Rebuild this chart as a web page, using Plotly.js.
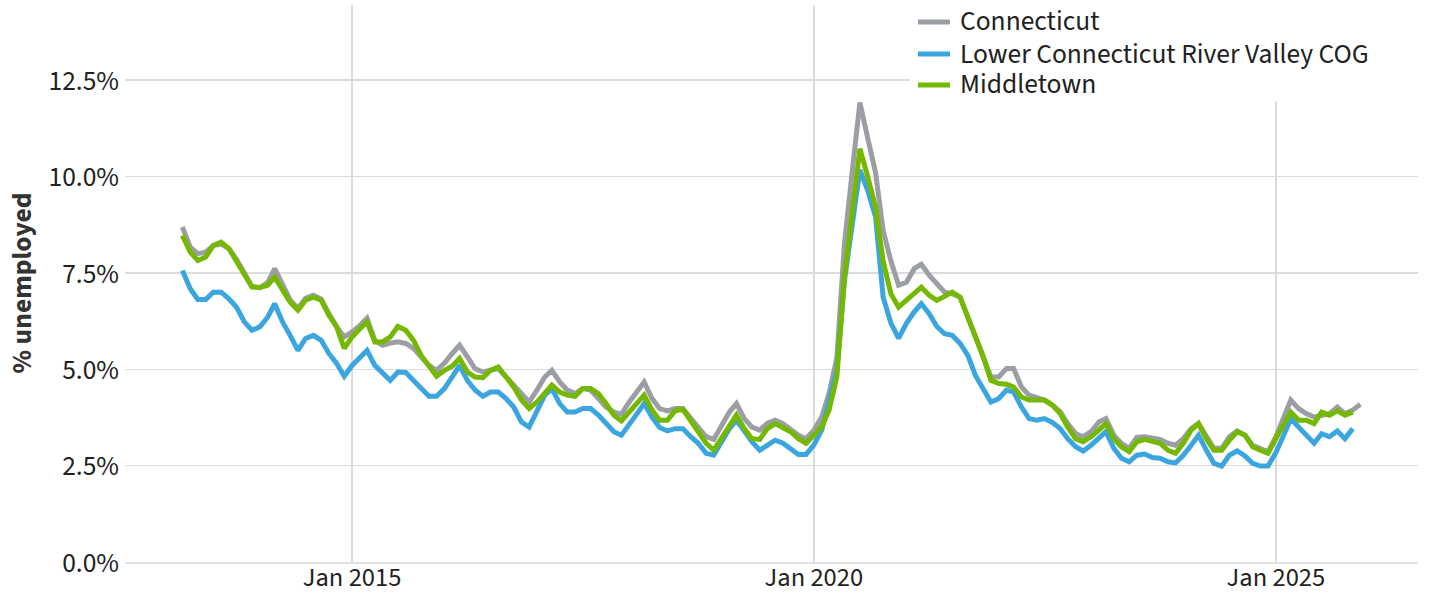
<!DOCTYPE html>
<html>
<head>
<meta charset="utf-8">
<script src="https://cdn.plot.ly/plotly-3.0.1.min.js"></script>
<style>
  html, body { margin: 0; padding: 0; background: #fff; }
  #chart { width: 1429px; height: 597px; }
</style>
</head>
<body>
<div id="chart"></div>
<script>
// Monthly series, first month March 2013
const startYear = 2013;
const startMonth = 3; // March

const connecticut = [
  8.69, 8.17, 8.00, 8.04, 8.21, 8.25, 8.13, 7.85, 7.50, 7.15, 7.12, 7.25,
  7.61, 7.20, 6.80, 6.58, 6.84, 6.92, 6.82, 6.45, 6.10, 5.84, 5.97, 6.14,
  6.32, 5.75, 5.62, 5.68, 5.71, 5.67, 5.54, 5.32, 5.10, 4.97, 5.16, 5.41,
  5.62, 5.32, 5.02, 4.93, 4.97, 5.02, 4.80, 4.59, 4.37, 4.15, 4.46, 4.80,
  4.97, 4.67, 4.46, 4.37, 4.50, 4.46, 4.24, 4.02, 3.89, 3.83, 4.15, 4.41,
  4.67, 4.24, 3.98, 3.92, 3.98, 3.98, 3.72, 3.50, 3.25, 3.18, 3.55, 3.89,
  4.11, 3.72, 3.50, 3.42, 3.60, 3.68, 3.59, 3.46, 3.29, 3.20, 3.42, 3.76,
  4.37, 5.30, 8.26, 10.15, 11.92, 11.00, 10.10, 8.60, 7.80, 7.18, 7.26, 7.61,
  7.72, 7.44, 7.22, 7.00, 6.96, 6.87, 6.35, 5.84, 5.32, 4.80, 4.80, 5.02,
  5.02, 4.54, 4.33, 4.28, 4.20, 4.07, 3.90, 3.59, 3.33, 3.25, 3.38, 3.63,
  3.72, 3.29, 3.08, 2.95, 3.23, 3.25, 3.23, 3.18, 3.08, 3.03, 3.20, 3.46,
  3.59, 3.29, 2.95, 2.95, 3.25, 3.40, 3.29, 3.03, 2.95, 2.86, 3.25, 3.72,
  4.20, 3.98, 3.85, 3.76, 3.81, 3.85, 4.02, 3.85, 3.94, 4.09
];

const lowerCtRiverValley = [
  7.56, 7.09, 6.81, 6.81, 7.00, 7.00, 6.83, 6.61, 6.23, 6.01, 6.10, 6.35,
  6.70, 6.23, 5.88, 5.49, 5.80, 5.88, 5.75, 5.41, 5.15, 4.82, 5.10, 5.32,
  5.49, 5.10, 4.89, 4.71, 4.93, 4.92, 4.71, 4.50, 4.30, 4.30, 4.50, 4.80,
  5.10, 4.71, 4.46, 4.30, 4.41, 4.41, 4.24, 4.02, 3.63, 3.50, 3.94, 4.33,
  4.50, 4.11, 3.89, 3.89, 3.98, 3.98, 3.81, 3.59, 3.38, 3.29, 3.55, 3.85,
  4.11, 3.76, 3.49, 3.40, 3.46, 3.46, 3.25, 3.08, 2.82, 2.77, 3.12, 3.46,
  3.68, 3.38, 3.12, 2.90, 3.02, 3.16, 3.08, 2.95, 2.79, 2.79, 3.03, 3.42,
  4.20, 4.97, 7.30, 8.70, 10.17, 9.64, 8.95, 6.87, 6.19, 5.80, 6.19, 6.49,
  6.70, 6.44, 6.11, 5.92, 5.88, 5.67, 5.36, 4.84, 4.46, 4.15, 4.24, 4.46,
  4.41, 4.02, 3.72, 3.68, 3.72, 3.62, 3.46, 3.20, 2.99, 2.88, 3.03, 3.20,
  3.38, 2.95, 2.69, 2.60, 2.77, 2.80, 2.71, 2.69, 2.60, 2.57, 2.77, 3.03,
  3.29, 2.90, 2.56, 2.49, 2.77, 2.88, 2.75, 2.56, 2.49, 2.49, 2.84, 3.29,
  3.72, 3.50, 3.29, 3.08, 3.33, 3.25, 3.40, 3.20, 3.46
];

const middletown = [
  8.47, 8.04, 7.82, 7.91, 8.21, 8.30, 8.13, 7.82, 7.48, 7.13, 7.12, 7.18,
  7.39, 7.05, 6.74, 6.53, 6.79, 6.87, 6.79, 6.40, 6.10, 5.54, 5.84, 6.05,
  6.23, 5.71, 5.71, 5.84, 6.11, 6.01, 5.75, 5.36, 5.06, 4.82, 4.97, 5.08,
  5.28, 4.93, 4.80, 4.78, 4.97, 5.06, 4.80, 4.54, 4.20, 3.98, 4.15, 4.37,
  4.59, 4.41, 4.33, 4.30, 4.50, 4.50, 4.37, 4.11, 3.81, 3.66, 3.89, 4.11,
  4.33, 3.94, 3.68, 3.68, 3.92, 3.96, 3.68, 3.38, 3.08, 2.90, 3.20, 3.52,
  3.81, 3.46, 3.20, 3.18, 3.46, 3.59, 3.50, 3.38, 3.20, 3.08, 3.29, 3.50,
  3.94, 4.80, 7.40, 9.00, 10.72, 10.00, 9.20, 7.80, 6.95, 6.61, 6.79, 6.96,
  7.13, 6.92, 6.79, 6.89, 7.00, 6.87, 6.35, 5.84, 5.32, 4.71, 4.63, 4.61,
  4.54, 4.28, 4.20, 4.20, 4.20, 4.07, 3.85, 3.50, 3.20, 3.12, 3.25, 3.42,
  3.59, 3.20, 2.99, 2.86, 3.12, 3.18, 3.12, 3.08, 2.90, 2.82, 3.08, 3.42,
  3.59, 3.20, 2.90, 2.90, 3.16, 3.38, 3.29, 2.99, 2.90, 2.82, 3.20, 3.55,
  3.89, 3.68, 3.68, 3.59, 3.89, 3.81, 3.92, 3.81, 3.89
];

const seriesNames = ["Connecticut", "Lower Connecticut River Valley COG", "Middletown"];
const seriesColors = ["#9b9ea4", "#3ba5e0", "#74b800"];
const xTickVals = ["2015-01-01", "2020-01-01", "2025-01-01"];
const xTickText = ["Jan 2015", "Jan 2020", "Jan 2025"];
const yTickVals = [0, 2.5, 5, 7.5, 10, 12.5];
const yTickText = ["0.0%", "2.5%", "5.0%", "7.5%", "10.0%", "12.5%"];
const yTitle = "% unemployed";

function monthDates(n) {
  const out = [];
  for (let i = 0; i < n; i++) {
    const t = (startMonth - 1) + i;
    const y = startYear + Math.floor(t / 12);
    const m = (t % 12) + 1;
    out.push(y + "-" + String(m).padStart(2, "0") + "-01");
  }
  return out;
}

const W = 1429, H = 597;
const M = { l: 125, r: 11, t: 5, b: 35 };
const PW = W - M.l - M.r, PH = H - M.t - M.b;
// helpers: page pixel -> paper fraction (for legend box / title placement)
const px = (x) => (x - M.l) / PW;
const py = (y) => (H - M.b - y) / PH;

const FONT = "'Source Sans Pro', 'Source Sans 3', Lato, 'Noto Sans', sans-serif";
const FS = 27.5;
const allSeries = [connecticut, lowerCtRiverValley, middletown];
const traces = allSeries.map((vals, i) => ({
  type: "scatter",
  mode: "lines",
  name: seriesNames[i],
  x: monthDates(vals.length),
  y: vals,
  line: { color: seriesColors[i], width: 5 },
  hoverinfo: "skip",
  showlegend: false
}));

// Custom legend (compact row spacing like the reference)
const legendRowsY = [22, 54, 85];
const shapes = [
  { type: "rect", xref: "paper", yref: "paper", layer: "above",
    x0: px(910), x1: px(1418), y0: py(101), y1: py(0),
    fillcolor: "#fff", line: { width: 0 } }
];
const annotations = [];
seriesNames.forEach((name, i) => {
  shapes.push({
    type: "line", xref: "paper", yref: "paper", layer: "above",
    x0: px(918), x1: px(950), y0: py(legendRowsY[i]), y1: py(legendRowsY[i]),
    line: { color: seriesColors[i], width: 5 }
  });
  annotations.push({
    xref: "paper", yref: "paper", x: px(959), y: py(legendRowsY[i]),
    xanchor: "left", yanchor: "middle", showarrow: false,
    height: 29, valign: "middle", borderpad: 0,
    text: name, font: { family: FONT, size: FS, color: "#222" }
  });
});
annotations.push({
  xref: "paper", yref: "paper", x: px(22), y: 0.5,
  xanchor: "center", yanchor: "middle", showarrow: false, textangle: -90,
  text: "<b>" + yTitle + "</b>", font: { family: FONT, size: FS, color: "#333" }
});

const layout = {
  width: W,
  height: H,
  margin: M,
  paper_bgcolor: "#fff",
  plot_bgcolor: "#fff",
  font: { family: FONT, size: FS, color: "#222" },
  showlegend: false,
  shapes: shapes,
  annotations: annotations,
  xaxis: {
    type: "date",
    automargin: false,
    range: ["2012-07-17", "2026-07-17"],
    tickvals: xTickVals,
    ticktext: xTickText,
    showgrid: true,
    gridcolor: "#dcdcdc",
    gridwidth: 1.5,
    zeroline: false,
    showline: true,
    linecolor: "#e2e2e2",
    linewidth: 2,
    ticks: "",
    ticklabelstandoff: -10,
    tickfont: { family: FONT, size: 26.5, color: "#222" }
  },
  yaxis: {
    automargin: false,
    range: [0, 14.45],
    tickvals: yTickVals,
    ticktext: yTickText,
    showgrid: true,
    gridcolor: "#dcdcdc",
    gridwidth: 1.5,
    zeroline: false,
    ticks: "",
    ticklabelstandoff: 5,
    tickfont: { family: FONT, size: FS, color: "#222" }
  }
};

Plotly.newPlot("chart", traces, layout, { displayModeBar: false, staticPlot: true });
</script>
</body>
</html>
